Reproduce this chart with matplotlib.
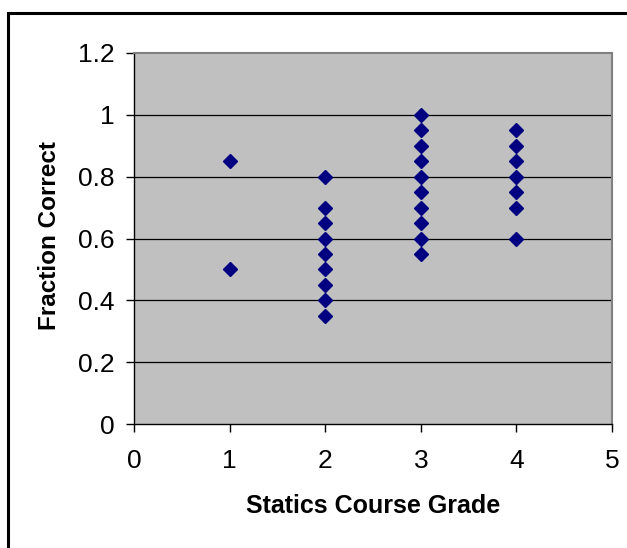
import matplotlib
matplotlib.use("Agg")
import matplotlib.pyplot as plt
from matplotlib.patches import Rectangle

plt.rcParams['font.family'] = ['Liberation Sans', 'DejaVu Sans']

grade1 = [0.85, 0.50]
grade2 = [0.80, 0.70, 0.65, 0.60, 0.55, 0.50, 0.45, 0.40, 0.35]
grade3 = [1.00, 0.95, 0.90, 0.85, 0.80, 0.75, 0.70, 0.65, 0.60, 0.55]
grade4 = [0.95, 0.90, 0.85, 0.80, 0.75, 0.70, 0.60]
grades = [1, 2, 3, 4]
xticks = [0, 1, 2, 3, 4, 5]
yticks = [0, 0.2, 0.4, 0.6, 0.8, 1.0, 1.2]
ytick_labels = ["0", "0.2", "0.4", "0.6", "0.8", "1", "1.2"]

xs, ys = [], []
for g, vals in zip(grades, [grade1, grade2, grade3, grade4]):
    xs += [g] * len(vals)
    ys += vals

fig = plt.figure(figsize=(6.27, 5.48), dpi=100)
W, H = 627, 548
L, R, T, B = 134, 612, 53, 424
ax = fig.add_axes([L / W, 1 - B / H, (R - L) / W, (B - T) / H])
ax.set_facecolor('#c0c0c0')

for y in yticks[1:-1]:
    ax.axhline(y, color='black', lw=0.9, zorder=1)

ax.plot(xs, ys, linestyle='none', marker='D', markersize=6.9,
        markerfacecolor='#000080', markeredgecolor='#000080', zorder=3,
        clip_on=False)

ax.set_xlim(0, 5)
ax.set_ylim(0, 1.2)
ax.set_xticks(xticks)
ax.set_xticklabels([str(t) for t in xticks])
ax.set_yticks(yticks)
ax.set_yticklabels(ytick_labels)

for s in ['left', 'bottom']:
    ax.spines[s].set_color('black')
    ax.spines[s].set_linewidth(1.0)
for s in ['top', 'right']:
    ax.spines[s].set_color('#808080')
    ax.spines[s].set_linewidth(1.5)

ax.tick_params(axis='both', direction='out', length=5.8, width=1.0,
               labelsize=19, colors='black')
ax.tick_params(axis='y', pad=8)
ax.tick_params(axis='x', pad=12)

ax.set_xlabel('Statics Course Grade', fontsize=18, fontweight='bold')
ax.xaxis.label.set_va('baseline')
ax.xaxis.set_label_coords(0.5, (B - 513) / (B - T))
ax.set_ylabel('Fraction Correct', fontsize=17.5, fontweight='bold')
ax.yaxis.label.set_va('center')
ax.yaxis.set_label_coords((49.5 - L) / (R - L), 0.5 + 3 / (B - T))

fig.patches.append(Rectangle((8 / W, -0.2), 1.2, 1 - 13 / H + 0.2,
                             transform=fig.transFigure, fill=False,
                             edgecolor='black', linewidth=2.2))

fig.savefig('out.png', dpi=100, facecolor='white')
